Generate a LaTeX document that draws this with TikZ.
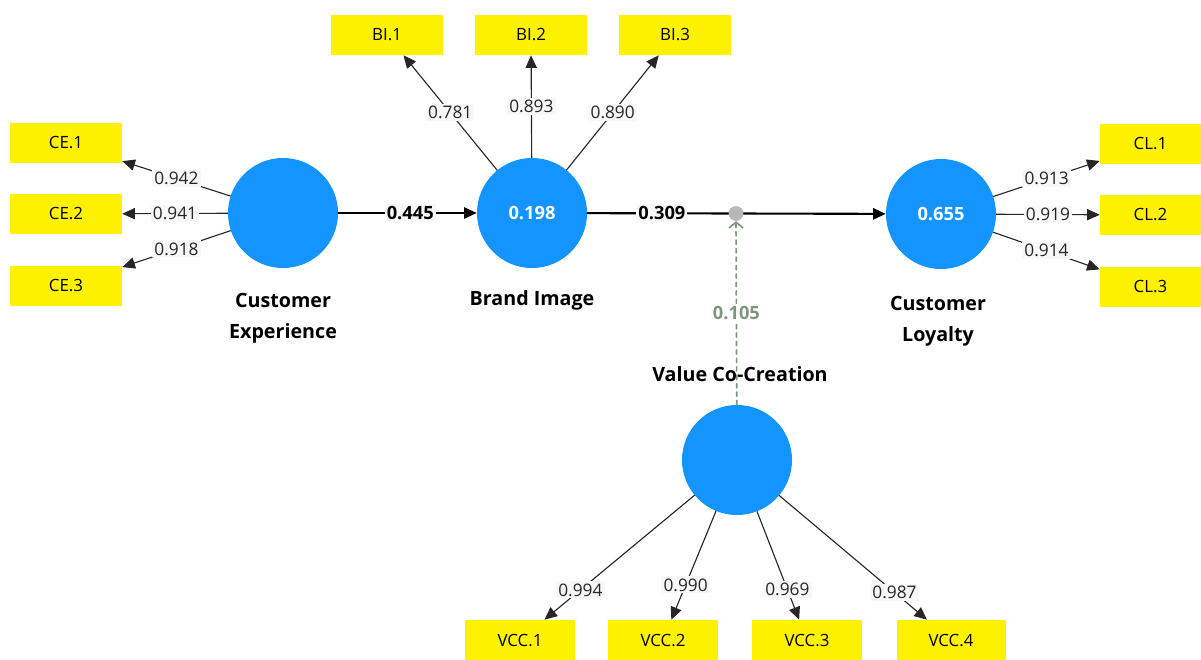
\documentclass[tikz,border=0pt]{standalone}
\usepackage{fontspec}
\setmainfont{Open Sans}
\usetikzlibrary{arrows.meta}
\definecolor{lvblue}{RGB}{20,148,255}
\definecolor{modgreen}{RGB}{125,150,125}
\definecolor{lblgray}{RGB}{248,248,248}
\begin{document}
\begin{tikzpicture}[x=0.025cm, y=-0.025cm, font=\fontsize{12.3}{14}\selectfont, line join=round, line cap=round, >={Triangle[length=9pt,width=8pt]},
  lv/.style={circle, fill=lvblue, minimum size=2.75cm, inner sep=0pt, text=white, font=\fontsize{13}{15}\selectfont\bfseries},
  ind/.style={fill=yellow, minimum width=2.8cm, minimum height=1cm, inner sep=0pt, font=\fontsize{12}{14}\selectfont},
  lvname/.style={align=center, font=\fontsize{14}{22}\selectfont\bfseries},
  ld/.style={fill=lblgray, inner sep=1.5pt},
  pth/.style={fill=lblgray, inner sep=1.5pt, font=\fontsize{13}{15}\selectfont\bfseries},
  load/.style={->, line width=0.8pt, black!85}]
\useasboundingbox (0,0) rectangle (1201,659);
% indicators
\node[ind] (CE1) at (66,143) {CE.1};
\node[ind] (CE2) at (66,214) {CE.2};
\node[ind] (CE3) at (66,286) {CE.3};
\node[ind] (BI1) at (387,35) {BI.1};
\node[ind] (BI2) at (531,35) {BI.2};
\node[ind] (BI3) at (675,35) {BI.3};
\node[ind, minimum width=2.525cm] (CL1) at (1150.5,144) {CL.1};
\node[ind, minimum width=2.525cm] (CL2) at (1150.5,215) {CL.2};
\node[ind, minimum width=2.525cm] (CL3) at (1150.5,287) {CL.3};
\node[ind, minimum width=2.725cm] (VCC1) at (520,640) {VCC.1};
\node[ind, minimum width=2.725cm] (VCC2) at (663,640) {VCC.2};
\node[ind, minimum width=2.725cm] (VCC3) at (807,640) {VCC.3};
\node[ind, minimum width=2.725cm] (VCC4) at (951,640) {VCC.4};
% latent variables
\node[lv] (CE) at (283,213) {};
\node[lv] (BI) at (532,213) {0.198};
\node[lv] (CL) at (941,214) {0.655};
\node[lv] (VCC) at (737,460) {};
\node[lvname] (CEname) at (283,318) {Customer\\Experience};
\node[lvname] (BIname) at (532,300) {Brand Image};
\node[lvname] (CLname) at (938,321) {Customer\\Loyalty};
\node[lvname] (VCCname) at (740,374) {Value Co-Creation};
% outer loadings
\draw[load] (CE) -- node[ld]{0.942} (CE1);
\draw[load] (CE) -- node[ld]{0.941} (CE2);
\draw[load] (CE) -- node[ld]{0.918} (CE3);
\draw[load] (BI) -- node[ld]{0.781} (BI1);
\draw[load] (BI) -- node[ld]{0.893} (BI2);
\draw[load] (BI) -- node[ld]{0.890} (BI3);
\draw[load] (CL) -- node[ld]{0.913} (CL1);
\draw[load] (CL) -- node[ld]{0.919} (CL2);
\draw[load] (CL) -- node[ld]{0.914} (CL3);
\draw[load] (VCC) -- node[ld, pos=0.76]{0.994} (VCC1);
\draw[load] (VCC) -- node[ld, pos=0.68]{0.990} (VCC2);
\draw[load] (VCC) -- node[ld, pos=0.72]{0.969} (VCC3);
\draw[load] (VCC) -- node[ld, pos=0.78]{0.987} (VCC4);
% inner model
\draw[->, line width=1.5pt] (CE) -- node[pth, pos=0.52]{0.445} (BI);
\draw[->, line width=1.5pt] (BI) -- node[pth, pos=0.25]{0.309} (CL);
\node[circle, fill=black!28, minimum size=0.37cm, inner sep=0pt] (mod) at (736,213.5) {};
\draw[modgreen, line width=1.2pt, dash pattern=on 3pt off 3pt, -{Straight Barb[length=4pt,width=10pt]}] (VCC) -- node[pth, text=modgreen, fill=white]{0.105} (mod);
\end{tikzpicture}
\end{document}
